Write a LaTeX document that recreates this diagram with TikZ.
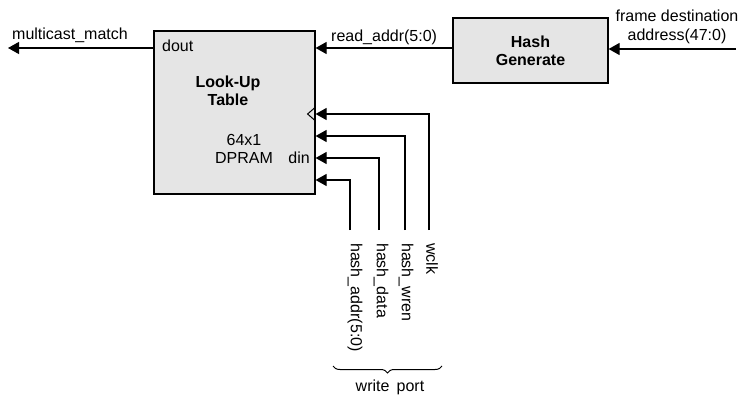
\documentclass[tikz,border=0pt]{standalone}
\usepackage{fontspec}
\setmainfont{Liberation Sans}
\usetikzlibrary{arrows.meta,decorations.pathreplacing}
\begin{document}
\begin{tikzpicture}[x=1pt,y=-1pt,
  every node/.style={font=\fontsize{16}{18.5}\selectfont, inner sep=0pt},
  blk/.style={draw=black, line width=1.2pt, fill=black!10, rectangle},
  arr/.style={line width=1.2pt, -{Triangle[length=11pt,width=12pt]}},
  lbl/.style={align=center},
  vlbl/.style={rotate=-90, anchor=west}]
\useasboundingbox (0,0) rectangle (745,396);
\node[blk, minimum width=161pt, minimum height=163pt] (lut) at (234.5,112.5) {};
\node[blk, minimum width=155pt, minimum height=65pt] (hash) at (530.5,50.5) {};
\node[lbl, font=\fontsize{16}{18.5}\selectfont\bfseries] (luttxt) at (228,91) {Look-Up\\Table};
\node[lbl] (dpram) at (244,149) {64x1\\DPRAM};
\node[anchor=west] (dout) at (162,46) {dout};
\node[anchor=east] (din) at (310,158) {din};
\node[lbl, font=\fontsize{16}{18.5}\selectfont\bfseries] (hashtxt) at (530.5,51) {Hash\\Generate};
\coordinate (mc) at (8,48);
\coordinate (ra) at (0,48);
\coordinate (fd) at (736,49);
\draw[arr] (lut.west|-mc) -- (mc);
\node[anchor=west] (mctxt) at (12,35) {multicast\_match};
\draw[arr] (hash.west|-ra) -- (lut.east|-ra);
\node[anchor=west] (ratxt) at (331,37) {read\_addr(5:0)};
\draw[arr] (fd) -- (hash.east|-fd);
\node[lbl] (fdtxt) at (677,27) {frame destination\\address(47:0)};
% write port inputs
\coordinate (wb) at (429,230);
\coordinate (wrb) at (405,230);
\coordinate (db) at (379,230);
\coordinate (ab) at (350,230);
\coordinate (wy) at (0,114);
\coordinate (wry) at (0,136);
\coordinate (dy) at (0,158);
\coordinate (ay) at (0,180);
\draw[arr] (wb) |- (lut.east|-wy);
\draw[arr] (wrb) |- (lut.east|-wry);
\draw[arr] (db) |- (lut.east|-dy);
\draw[arr] (ab) |- (lut.east|-ay);
\draw[line width=1pt] (lut.east|-wy) ++(0,-7) -- ++(-8,7) -- ++(8,7);
\node[vlbl] (wclk) at (432,243) {wclk};
\node[vlbl] (wren) at (406,243) {hash\_wren};
\node[vlbl] (hdata) at (381,243) {hash\_data};
\node[vlbl] (haddr) at (355,243) {hash\_addr(5:0)};
\coordinate (bl) at (333,366);
\coordinate (br) at (442,366);
\draw[line width=1pt, decorate, decoration={brace, mirror, amplitude=7pt}] (bl) -- (br);
\node (wp) at (390,387) {write\hspace{0.45em}port};
\end{tikzpicture}
\end{document}
